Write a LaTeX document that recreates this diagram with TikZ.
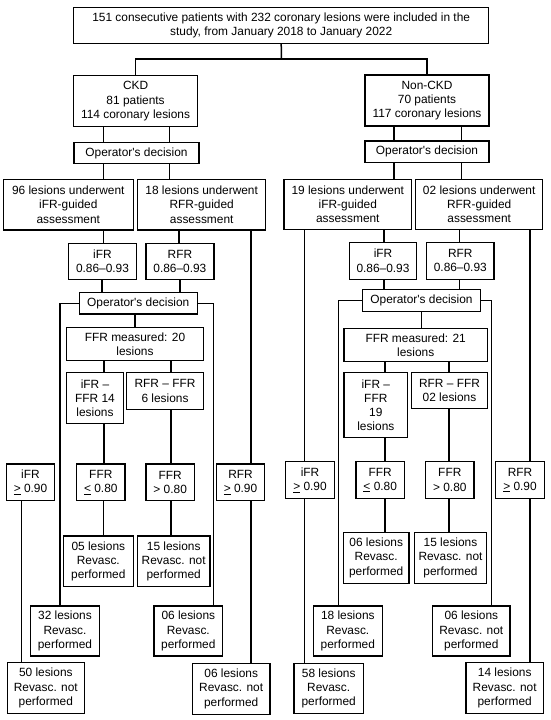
\documentclass[tikz,border=0pt]{standalone}
\usepackage{fontspec}
\setmainfont{Liberation Sans}
\tikzset{
	box/.style 2 args={draw, minimum width=#1, minimum height=#2, inner sep=0pt, align=center, font=\fontsize{11.9}{14.2}\selectfont},
}
\begin{document}
\begin{tikzpicture}[x=1pt, y=-1pt, line width=1.5pt]
	\useasboundingbox (0,0) rectangle (550,720);
	% study population
	\node[box={415pt}{36pt}] (all) at (281.2,25.3) {151 consecutive patients with 232 coronary lesions were included in the\\study, from January 2018 to January 2022};
	\node[box={124pt}{51pt}] (ckd)  at (135.6,101.2) {CKD\\81 patients\\114 coronary lesions};
	\node[box={124pt}{51pt}] (nckd) at (427,100.5)   {Non-CKD\\70 patients\\117 coronary lesions};
	\coordinate (split) at (281.5,59);
	\draw (all.south) -- (split);
	\draw (ckd.north) |- (split) -| (nckd.north);
	% CKD branch
	\node[box={125pt}{20.6pt}]  (opl)  at (136.5,153)   {Operator\textquotesingle s decision};
	\node[box={130pt}{50.7pt}]  (igl)  at (68.3,204.7)  {96 lesions underwent\\iFR-guided\\assessment};
	\node[box={128pt}{50.7pt}]  (rgl)  at (201.7,204.7) {18 lesions underwent\\RFR-guided\\assessment};
	\node[box={68.4pt}{36pt}]   (ifl)  at (102.5,261.3) {iFR\\0.86–0.93};
	\node[box={68.3pt}{36pt}]   (rfl)  at (179.9,261.3) {RFR\\0.86–0.93};
	\node[box={118pt}{21.3pt}]  (opl2) at (138.3,303.3) {Operator\textquotesingle s decision};
	\node[box={136.6pt}{33.4pt}] (ffl) at (135,344)     {FFR measured: 20\\lesions};
	\node[box={56.6pt}{50.6pt}] (iffl) at (95,398)      {iFR –\\FFR 14\\lesions};
	\node[box={76.6pt}{36.6pt}] (rffl) at (165,391)     {RFR – FFR\\6 lesions};
	\node[box={47.6pt}{36.7pt}] (ihl)  at (30.5,482.3)  {iFR\\\underline{>} 0.90};
	\node[box={48.3pt}{36.7pt}] (fll)  at (100.8,482.3) {FFR\\\underline{<} 0.80};
	\node[box={48.3pt}{36.7pt}] (fgl)  at (170.2,482.3) {FFR\\> 0.80};
	\node[box={47.6pt}{36.7pt}] (rhl)  at (240.5,482.3) {RFR\\\underline{>} 0.90};
	\node[box={70pt}{50.7pt}]   (r05)  at (98.3,561.3)  {05 lesions\\Revasc.\\performed};
	\node[box={72.7pt}{50.7pt}] (r15l) at (173.7,561.3) {15 lesions\\Revasc. not\\performed};
	\node[box={68.6pt}{50pt}]   (r32)  at (65,631)      {32 lesions\\Revasc.\\performed};
	\node[box={68.7pt}{50pt}]   (r06a) at (188.3,631)   {06 lesions\\Revasc.\\performed};
	\node[box={77pt}{50.6pt}]   (r50)  at (45.8,688)    {50 lesions\\Revasc. not\\performed};
	\node[box={77.7pt}{51pt}]   (r06b) at (231.2,688.8) {06 lesions\\Revasc. not\\performed};
	\draw (103.3,0 |- ckd.south)  -- (103.3,0 |- opl.north);
	\draw (169.3,0 |- ckd.south)  -- (169.3,0 |- opl.north);
	\draw (103.3,0 |- opl.south)  -- (103.3,0 |- igl.north);
	\draw (169.3,0 |- opl.south)  -- (169.3,0 |- rgl.north);
	\draw (103.3,0 |- igl.south)  -- (103.3,0 |- ifl.north);
	\draw (179,0 |- rgl.south)    -- (179,0 |- rfl.north);
	\draw (251.2,0 |- rgl.south)  -- (251.2,0 |- rhl.north);
	\draw (102,0 |- ifl.south)    -- (102,0 |- opl2.north);
	\draw (180,0 |- rfl.south)    -- (180,0 |- opl2.north);
	\draw (opl2.west) -| (60,0 |- r32.north);
	\draw (opl2.east) -| (213.3,0 |- r06a.north);
	\draw (135,0 |- opl2.south)   -- (135,0 |- ffl.north);
	\draw (104,0 |- ffl.south)    -- (104,0 |- iffl.north);
	\draw (171,0 |- ffl.south)    -- (171,0 |- rffl.north);
	\draw (104,0 |- iffl.south)   -- (104,0 |- fll.north);
	\draw (171,0 |- rffl.south)   -- (171,0 |- fgl.north);
	\draw (103.3,0 |- fll.south)  -- (103.3,0 |- r05.north);
	\draw (171,0 |- fgl.south)    -- (171,0 |- r15l.north);
	\draw (21.7,0 |- ihl.south)   -- (21.7,0 |- r50.north);
	\draw (251.2,0 |- rhl.south)  -- (251.2,0 |- r06b.north);
	% non-CKD branch
	\node[box={124pt}{21.7pt}]  (opr)  at (427,151.8)   {Operator\textquotesingle s decision};
	\node[box={127.7pt}{50pt}]  (igr)  at (347.8,204.3) {19 lesions underwent\\iFR-guided\\assessment};
	\node[box={127pt}{50pt}]    (rgr)  at (479.2,204.3) {02 lesions underwent\\RFR-guided\\assessment};
	\node[box={67.4pt}{37pt}]   (ifr)  at (383,260.8)   {iFR\\0.86–0.93};
	\node[box={67.3pt}{37pt}]   (rfr)  at (460.3,260.8) {RFR\\0.86–0.93};
	\node[box={118.4pt}{22.4pt}] (opr2) at (421.5,300.5) {Operator\textquotesingle s decision};
	\node[box={143.3pt}{33.4pt}] (ffr) at (415.7,345)   {FFR measured: 21\\lesions};
	\node[box={63.7pt}{65pt}]   (iffr) at (375.8,405.2) {iFR –\\FFR\\19\\lesions};
	\node[box={75.6pt}{35.6pt}] (rffr) at (449.5,390.5) {RFR – FFR\\02 lesions};
	\node[box={48.6pt}{36.6pt}] (ihr)  at (310,480)     {iFR\\\underline{>} 0.90};
	\node[box={48.3pt}{36.6pt}] (flr)  at (380.2,480)   {FFR\\\underline{<} 0.80};
	\node[box={48.3pt}{36.6pt}] (fgr)  at (449.8,480)   {FFR\\> 0.80};
	\node[box={48.6pt}{36.6pt}] (rhr)  at (520,480)     {RFR\\\underline{>} 0.90};
	\node[box={65.7pt}{51pt}]   (r06c) at (376.2,557.8) {06 lesions\\Revasc.\\performed};
	\node[box={72.4pt}{51pt}]   (r15r) at (450.5,557.8) {15 lesions\\Revasc. not\\performed};
	\node[box={69pt}{50pt}]     (r18)  at (347.8,631)   {18 lesions\\Revasc.\\performed};
	\node[box={77.3pt}{50pt}]   (r06d) at (471.3,631)   {06 lesions\\Revasc. not\\performed};
	\node[box={69.3pt}{50pt}]   (r58)  at (328.7,688.3) {58 lesions\\Revasc.\\performed};
	\node[box={77.3pt}{50.6pt}] (r14)  at (504.7,688)   {14 lesions\\Revasc. not\\performed};
	\draw (394,0 |- nckd.south)   -- (394,0 |- opr.north);
	\draw (461.5,0 |- nckd.south) -- (461.5,0 |- opr.north);
	\draw (394,0 |- opr.south)    -- (394,0 |- igr.north);
	\draw (461.5,0 |- opr.south)  -- (461.5,0 |- rgr.north);
	\draw (304.3,0 |- igr.south)  -- (304.3,0 |- ihr.north);
	\draw (384,0 |- igr.south)    -- (384,0 |- ifr.north);
	\draw (459.5,0 |- rgr.south)  -- (459.5,0 |- rfr.north);
	\draw (530,0 |- rgr.south)    -- (530,0 |- rhr.north);
	\draw (384,0 |- ifr.south)    -- (384,0 |- opr2.north);
	\draw (459.5,0 |- rfr.south)  -- (459.5,0 |- opr2.north);
	\draw (opr2.west) -| (338.5,0 |- r18.north);
	\draw (opr2.east) -| (491.7,0 |- r06d.north);
	\draw (421.7,0 |- opr2.south) -- (421.7,0 |- ffr.north);
	\draw (385,0 |- ffr.south)    -- (385,0 |- iffr.north);
	\draw (449,0 |- ffr.south)    -- (449,0 |- rffr.north);
	\draw (385,0 |- iffr.south)   -- (385,0 |- flr.north);
	\draw (449,0 |- rffr.south)   -- (449,0 |- fgr.north);
	\draw (385,0 |- flr.south)    -- (385,0 |- r06c.north);
	\draw (449,0 |- fgr.south)    -- (449,0 |- r15r.north);
	\draw (304.3,0 |- ihr.south)  -- (304.3,0 |- r58.north);
	\draw (530,0 |- rhr.south)    -- (530,0 |- r14.north);
\end{tikzpicture}
\end{document}
